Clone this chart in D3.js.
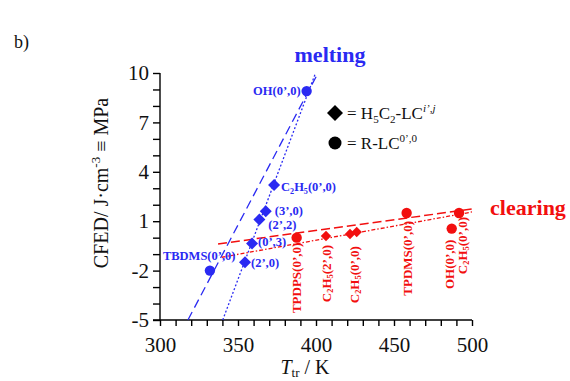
<!DOCTYPE html>
<html lang="en">
<head>
<meta charset="UTF-8">
<title>CFED vs transition temperature</title>
<script src="https://d3js.org/d3.v7.min.js"></script>
<style>
  body, html { margin: 0; background: #fff; }
  svg { display: block; font-family: "Liberation Serif", "DejaVu Serif", serif; }
  .axis path, .axis line { stroke: #000; stroke-width: 1.4; }
  .axis text { font-family: "Liberation Serif", serif; font-size: 21px; fill: #111; }
</style>
</head>
<body>
<svg width="570" height="381"></svg>
<script>
// ---- data ----
// melting, R-LC(0',0) compounds (circles)
const meltCircleNames = ["OH(0’,0)", "TBDMS(0’,0)"];
const meltCircleT     = [394.0, 332.0];
const meltCircleE     = [8.9, -2.0];

// melting, H5C2-LC(i',j) compounds (diamonds)
const meltDiamondNames = ["C_2H_5(0’,0)", "(3’,0)", "(2’,2)", "(0’,3)", "(2’,0)"];
const meltDiamondT     = [373.1, 367.8, 363.7, 359.0, 354.5];
const meltDiamondE     = [3.2, 1.6, 1.1, -0.35, -1.5];

// clearing, circles
const clearCircleNames = ["TPDPS(0’,0)", "TPDMS(0’,0)", "OH(0’,0)", "C_2H_5(0’,0)"];
const clearCircleT     = [387.6, 458.1, 487.0, 491.7];
const clearCircleE     = [0.0, 1.5, 0.55, 1.5];

// clearing, diamonds
const clearDiamondNames = ["C_2H_5(2’,0)", "C_2H_5(0’,0)", ""];
const clearDiamondT     = [406.4, 421.8, 426.1];
const clearDiamondE     = [0.1, 0.22, 0.34];

// fitted lines [T, CFED] end points
const meltDashFit  = [[317.9, -5], [401.3, 10]];
const meltDotFit   = [[340.2, -5], [399.7, 10]];
const clearDashFit = [[337.2, -0.38], [500, 1.74]];
const clearDotFit  = [[339.6, -1.19], [500, 1.56]];

const xMajor = [300, 350, 400, 450, 500];
const yMajor = [-5, -2, 1, 4, 7, 10];

// label offsets (px) relative to each point
const meltDiamondOff = [[7, 2], [9, -1], [9, 5], [6, -2], [6, 0]];
const meltCircleOff  = [[-6, 0], [-47, -15]];
const clearCircleOff = [[0, 5], [1, 8], [-2, 11], [3, 4]];
const clearDiamondOff = [[0, 9], [4, 12], [0, 0]];

const blue = "#2a2af2";
const red = "#f20f0f";

// ---- chart ----
const svg = d3.select("svg");
const x = d3.scaleLinear().domain([300, 500]).range([160, 472]);
const y = d3.scaleLinear().domain([-5, 10]).range([320, 73]);

svg.append("g").attr("class", "axis")
  .attr("transform", "translate(0,320)")
  .call(d3.axisBottom(x).tickValues(d3.range(300, 501, 10)).tickSize(6).tickPadding(11)
    .tickFormat(d => xMajor.includes(d) ? d : ""))
  .call(g => g.select(".domain").attr("d", "M153,0H472"));

svg.append("g").attr("class", "axis")
  .attr("transform", "translate(160,0)")
  .call(d3.axisLeft(y).tickValues(d3.range(-5, 11, 1)).tickSize(7).tickPadding(4)
    .tickFormat(d => yMajor.includes(d) ? d : ""))
  .call(g => g.select(".domain").attr("d", "M0,73V320"));

// rich text helper: _x / _{xx} subscript, ^{xx} superscript
function rich(text, str, fs, supItalic) {
  const re = /_\{([^}]*)\}|_(.)|\^\{([^}]*)\}|([^_^]+)/g;
  let m, shift = 0;
  while ((m = re.exec(str))) {
    let t, target = 0, small = false, sup = false;
    if (m[4] !== undefined) t = m[4];
    else if (m[3] !== undefined) { t = m[3]; target = -0.38 * fs; small = true; sup = true; }
    else { t = m[1] !== undefined ? m[1] : m[2]; target = 0.22 * fs; small = true; }
    const ts = text.append("tspan").text(t);
    if (target - shift !== 0) ts.attr("dy", target - shift);
    if (small) ts.attr("font-size", fs * 0.65);
    if (sup && supItalic) ts.attr("font-style", "italic");
    shift = target;
  }
}

const line = d3.line().x(d => x(d[0])).y(d => y(d[1]));
svg.append("path").datum(meltDashFit).attr("d", line)
  .attr("fill", "none").attr("stroke", blue).attr("stroke-width", 1.3).attr("stroke-dasharray", "9,5");
svg.append("path").datum(meltDotFit).attr("d", line)
  .attr("fill", "none").attr("stroke", blue).attr("stroke-width", 1.3).attr("stroke-dasharray", "2,2");
svg.append("path").datum(clearDashFit).attr("d", line)
  .attr("fill", "none").attr("stroke", red).attr("stroke-width", 1.5).attr("stroke-dasharray", "9,4");
svg.append("path").datum(clearDotFit).attr("d", line)
  .attr("fill", "none").attr("stroke", red).attr("stroke-width", 1.3).attr("stroke-dasharray", "4,2,1.5,2");

function drawSet(T, E, shape, color, size) {
  const g = svg.append("g");
  T.forEach((t, i) => {
    if (shape === "circle") {
      g.append("circle").attr("cx", x(t)).attr("cy", y(E[i])).attr("r", size).attr("fill", color);
    } else {
      g.append("path").attr("d", d3.symbol().type(d3.symbolSquare).size(2 * size * size)())
        .attr("transform", `translate(${x(t)},${y(E[i])}) rotate(45)`).attr("fill", color);
    }
  });
}
drawSet(meltCircleT, meltCircleE, "circle", blue, 5.2);
drawSet(meltDiamondT, meltDiamondE, "diamond", blue, 6);
drawSet(clearCircleT, clearCircleE, "circle", red, 5.2);
drawSet(clearDiamondT, clearDiamondE, "diamond", red, 5.2);

// blue labels
function blueLabels(names, T, E, off, anchors) {
  names.forEach((n, i) => {
    const t = svg.append("text")
      .attr("x", x(T[i]) + off[i][0]).attr("y", y(E[i]) + off[i][1]).attr("dy", "0.35em")
      .attr("text-anchor", anchors[i]).attr("font-size", 12.5).attr("font-weight", "bold").attr("fill", blue);
    rich(t, n, 12.5);
  });
}
blueLabels(meltCircleNames, meltCircleT, meltCircleE, meltCircleOff, ["end", "start"]);
blueLabels(meltDiamondNames, meltDiamondT, meltDiamondE, meltDiamondOff, ["start", "start", "start", "start", "start"]);

// red rotated labels
function redLabels(names, T, E, off) {
  names.forEach((n, i) => {
    if (!n) return;
    const t = svg.append("text")
      .attr("transform", `translate(${x(T[i]) + off[i][0]},${y(E[i]) + off[i][1]}) rotate(-90)`)
      .attr("dy", "0.35em").attr("text-anchor", "end")
      .attr("font-size", 13).attr("font-weight", "bold").attr("fill", red);
    rich(t, n, 13);
  });
}
redLabels(clearCircleNames, clearCircleT, clearCircleE, clearCircleOff);
redLabels(clearDiamondNames, clearDiamondT, clearDiamondE, clearDiamondOff);

// titles
svg.append("text").attr("x", 330).attr("y", 62).attr("text-anchor", "middle")
  .attr("font-size", 22).attr("font-weight", "bold").attr("fill", blue).text("melting");
svg.append("text").attr("x", 528).attr("y", 215).attr("text-anchor", "middle")
  .attr("font-size", 22).attr("font-weight", "bold").attr("fill", red).text("clearing");
svg.append("text").attr("x", 14).attr("y", 48).attr("font-size", 18).attr("fill", "#111").text("b)");

// legend
svg.append("path").attr("d", d3.symbol().type(d3.symbolSquare).size(128)())
  .attr("transform", "translate(335,113) rotate(45)").attr("fill", "#000");
svg.append("circle").attr("cx", 335).attr("cy", 143).attr("r", 6.5).attr("fill", "#000");
const l1 = svg.append("text").attr("x", 347).attr("y", 113).attr("dy", "0.35em")
  .attr("font-size", 17).attr("fill", "#111");
rich(l1, "= H_5C_2-LC^{i’,j}", 17, true);
const l2 = svg.append("text").attr("x", 347).attr("y", 143).attr("dy", "0.35em")
  .attr("font-size", 17).attr("fill", "#111");
rich(l2, "= R-LC^{0’,0}", 17, false);

// axis titles
const xt = svg.append("text").attr("x", 305).attr("y", 374).attr("text-anchor", "middle")
  .attr("font-size", 20).attr("fill", "#111");
xt.append("tspan").attr("font-style", "italic").text("T");
xt.append("tspan").attr("font-size", 13).attr("dy", 3).text("tr");
xt.append("tspan").attr("dy", -3).text(" / K");

const yt = svg.append("text").attr("transform", "translate(108,183) rotate(-90)")
  .attr("text-anchor", "middle").attr("font-size", 20).attr("fill", "#111");
rich(yt, "CFED/ J·cm^{-3} ≡ MPa", 20, false);
</script>
</body>
</html>
